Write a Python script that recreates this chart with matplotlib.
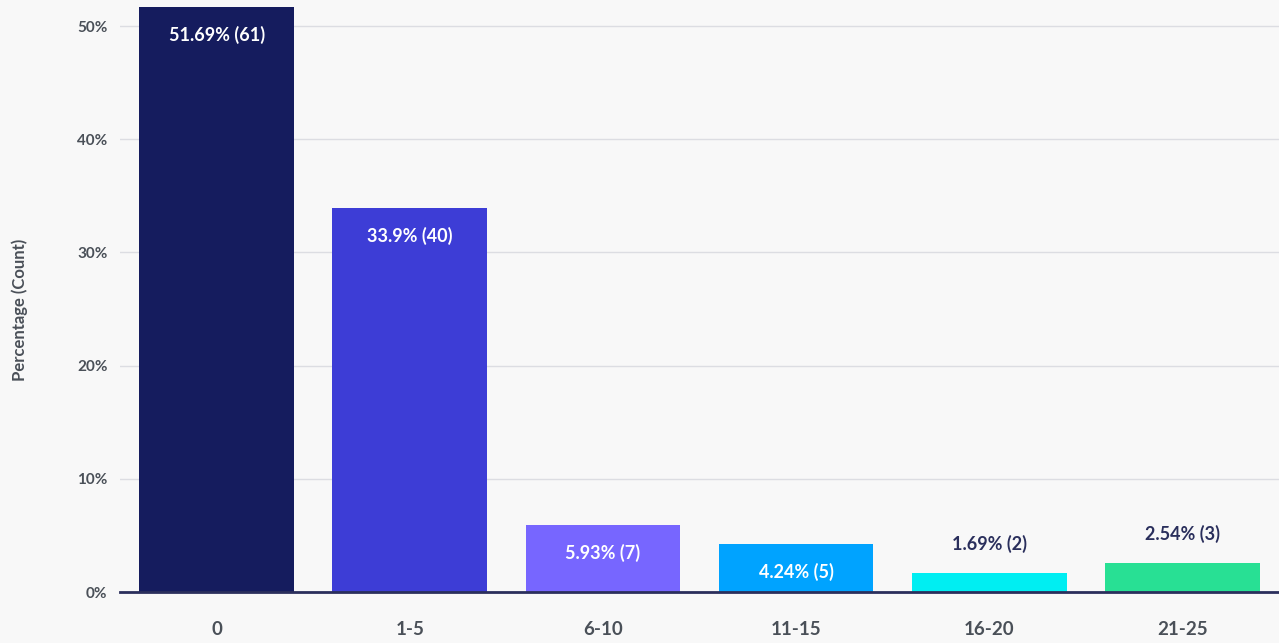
import numpy as np
import matplotlib.pyplot as plt

categories = ['0', '1-5', '6-10', '11-15', '16-20', '21-25']
percentages = [51.69, 33.9, 5.93, 4.24, 1.69, 2.54]
counts = [61, 40, 7, 5, 2, 3]
colors = ['#151c5e', '#3d3dd6', '#7766ff', '#00a3ff', '#00eef2', '#28e094']
yticks = [0, 10, 20, 30, 40, 50]

plt.rcParams['font.family'] = ['Lato', 'DejaVu Sans']
plt.rcParams['font.weight'] = 'bold'

bg = '#f8f8f8'
fig = plt.figure(figsize=(12.79, 6.43), dpi=100, facecolor=bg)
ax = fig.add_axes([120 / 1279, 51 / 643, 1159 / 1279, 592 / 643])
ax.set_facecolor(bg)

x = np.arange(len(categories))
bars = ax.bar(x, percentages, width=0.8, color=colors, zorder=3)

ax.set_xlim(-0.5, len(categories) - 0.5)
ax.set_ylim(0, 52.3)
ax.set_yticks(yticks)
ax.set_yticklabels([f'{t}%' for t in yticks])
ax.set_xticks(x)
ax.set_xticklabels(categories)

ax.grid(axis='y', color='#dcdde2', linewidth=1, zorder=0)
for s in ['top', 'right', 'left']:
    ax.spines[s].set_visible(False)
ax.spines['bottom'].set_color('#2b2f5c')
ax.spines['bottom'].set_linewidth(2)
ax.spines['bottom'].set_zorder(4)

ax.tick_params(axis='y', length=0, pad=9, labelsize=11, labelcolor='#4a5058')
ax.tick_params(axis='x', length=0, pad=21, labelsize=13.5, labelcolor='#4a5058')
ax.set_ylabel('Percentage (Count)', fontsize=12, fontweight='bold', color='#4a5058')
ax.yaxis.set_label_coords(-0.079, 0.476)

# labels inside tall bars, above short ones
for b, p, c in zip(bars, percentages, counts):
    cx = b.get_x() + b.get_width() / 2
    txt = f'{p}% ({c})'
    if p > 4:
        ax.annotate(txt, (cx, p), xytext=(0, -20), textcoords='offset points',
                    ha='center', va='center', color='white', fontsize=13, zorder=5)
    else:
        ax.annotate(txt, (cx, p), xytext=(0, 21), textcoords='offset points',
                    ha='center', va='center', color='#2a2f5c', fontsize=13, zorder=5)

plt.savefig('out.png', dpi=100, facecolor=bg)
